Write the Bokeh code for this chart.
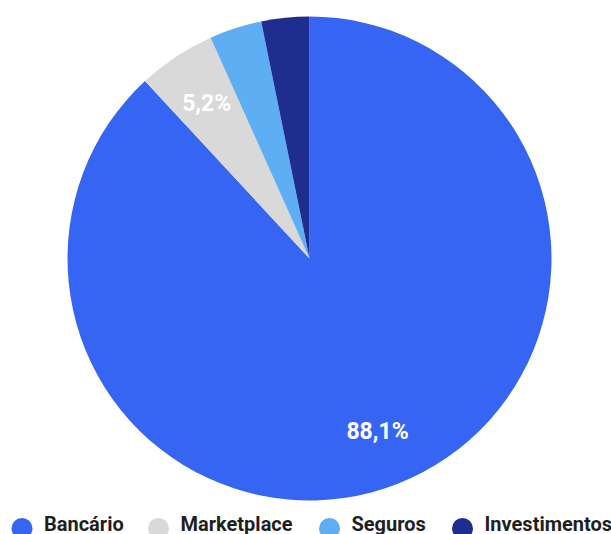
import math
from bokeh.plotting import figure
from bokeh.models import ColumnDataSource, Range1d
from bokeh.core.properties import value
from bokeh.embed import file_html
from bokeh.resources import INLINE

categories = ["Bancário", "Marketplace", "Seguros", "Investimentos"]
shares = [88.1, 5.2, 3.5, 3.2]
slice_labels = ["88,1%", "5,2%", "", ""]
colors = ["#3665f3", "#d9d9d9", "#5eaef3", "#1f2d8f"]

W, H = 611, 534
p = figure(width=W, height=H, output_backend="svg", toolbar_location=None,
           x_range=Range1d(0, W), y_range=Range1d(0, H), min_border=0,
           outline_line_color=None)
p.axis.visible = False
p.grid.visible = False

cx, cy, R = 309, 276, 242
total = sum(shares)
starts, ends, lx, ly = [], [], [], []
cum = 0.0
for s in shares:
    a0 = math.pi / 2 - 2 * math.pi * cum / total
    cum += s
    a1 = math.pi / 2 - 2 * math.pi * cum / total
    starts.append(a0)
    ends.append(a1)
    mid = (a0 + a1) / 2
    lx.append(cx + 0.77 * R * math.cos(mid))
    ly.append(cy + 0.77 * R * math.sin(mid))

src = ColumnDataSource(dict(start=starts, end=ends, color=colors, lx=lx, ly=ly, lab=slice_labels))
p.wedge(x=cx, y=cy, radius=R, radius_units="screen", start_angle="start", end_angle="end",
        direction="clock", fill_color="color", line_color=None, source=src)
p.text(x="lx", y="ly", text="lab", source=src, text_color="white", text_font=value("Roboto"),
       text_font_style="bold", text_font_size="23px", text_align="center", text_baseline="middle")

# legend
leg_x = [21.5, 158, 329, 462]
p.scatter(x=leg_x, y=[6] * 4, size=21, marker="circle", fill_color=colors, line_color=None)
p.text(x=[x + 22 for x in leg_x], y=[11] * 4, text=categories, text_color="#1f1f1f",
       text_font=value("Roboto"), text_font_style="bold", text_font_size="20px",
       text_align="left", text_baseline="middle")

open("out.html", "w").write(file_html(p, INLINE))
